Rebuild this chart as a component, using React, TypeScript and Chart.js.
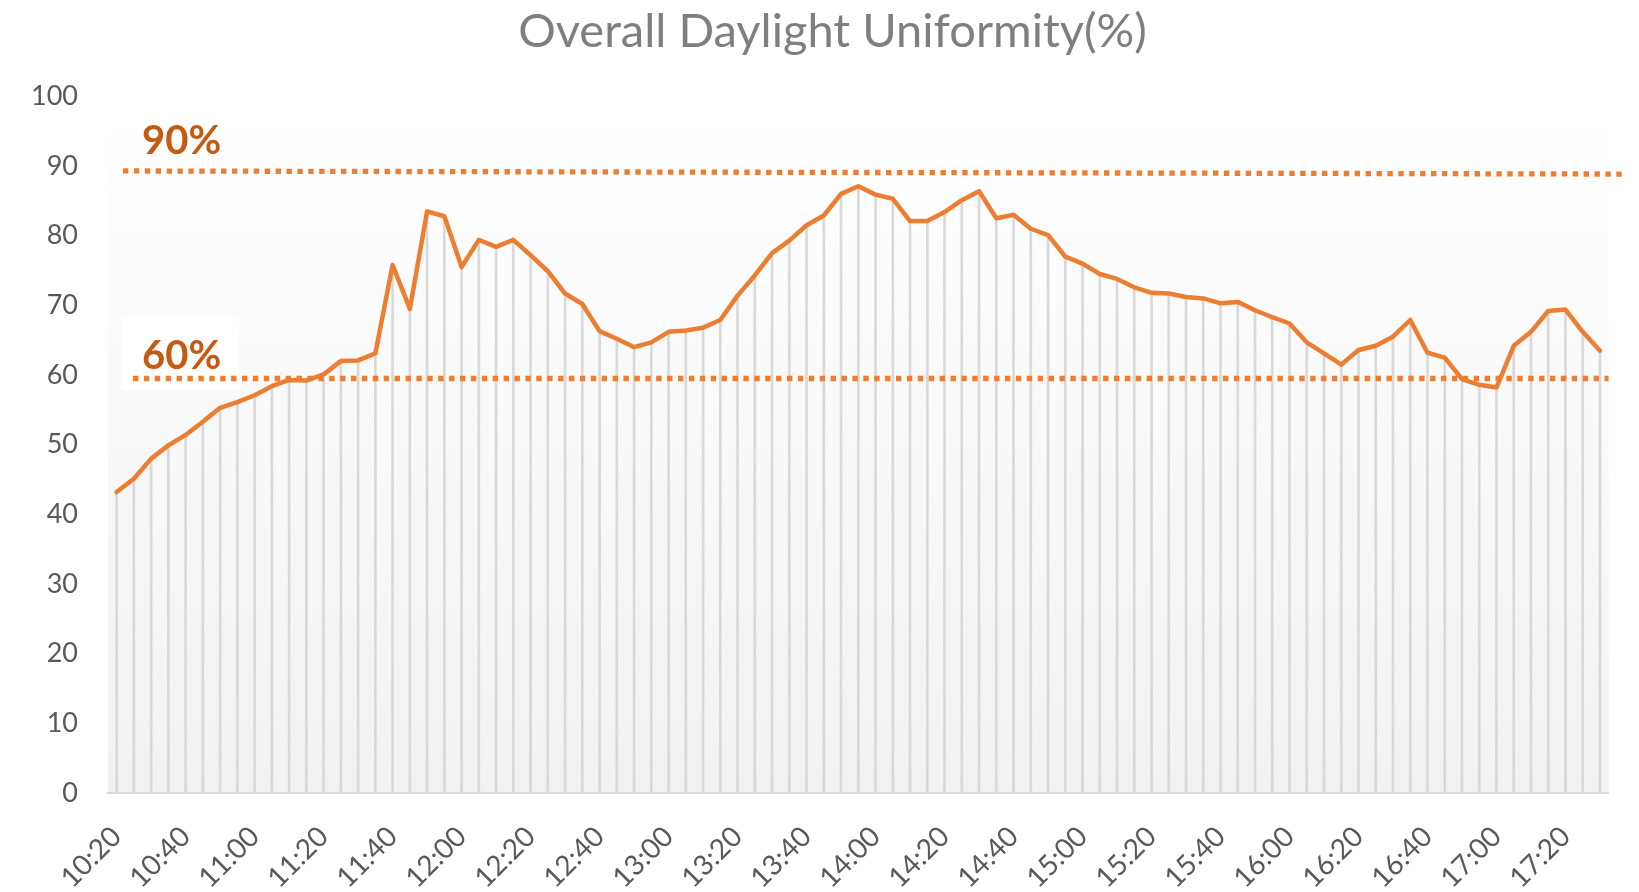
import React, { useEffect, useRef } from "react";
import { Chart, registerables } from "chart.js";

Chart.register(...registerables);

// Categories: every 5 minutes from 10:20 to 17:30
const times: string[] = [
  "10:20", "10:25", "10:30", "10:35", "10:40", "10:45", "10:50", "10:55",
  "11:00", "11:05", "11:10", "11:15", "11:20", "11:25", "11:30", "11:35", "11:40", "11:45", "11:50", "11:55",
  "12:00", "12:05", "12:10", "12:15", "12:20", "12:25", "12:30", "12:35", "12:40", "12:45", "12:50", "12:55",
  "13:00", "13:05", "13:10", "13:15", "13:20", "13:25", "13:30", "13:35", "13:40", "13:45", "13:50", "13:55",
  "14:00", "14:05", "14:10", "14:15", "14:20", "14:25", "14:30", "14:35", "14:40", "14:45", "14:50", "14:55",
  "15:00", "15:05", "15:10", "15:15", "15:20", "15:25", "15:30", "15:35", "15:40", "15:45", "15:50", "15:55",
  "16:00", "16:05", "16:10", "16:15", "16:20", "16:25", "16:30", "16:35", "16:40", "16:45", "16:50", "16:55",
  "17:00", "17:05", "17:10", "17:15", "17:20", "17:25", "17:30",
];

// Overall daylight uniformity (%)
const uniformity: number[] = [
  43.2, 45.1, 48.0, 49.9, 51.4, 53.3, 55.3, 56.1, 57.1, 58.4, 59.3, 59.2, 60.1,
  62.0, 62.1, 63.1, 75.8, 69.5, 83.5, 82.8, 75.5, 79.4, 78.4, 79.4, 77.2, 74.9,
  71.7, 70.2, 66.3, 65.2, 64.0, 64.7, 66.2, 66.4, 66.8, 67.9, 71.4, 74.3, 77.5,
  79.3, 81.5, 82.9, 86.0, 87.1, 85.9, 85.3, 82.1, 82.1, 83.4, 85.1, 86.4, 82.5,
  83.0, 81.0, 80.1, 77.0, 76.0, 74.5,
  73.8, 72.6, 71.8, 71.7, 71.2, 71.0, 70.3, 70.5, 69.3, 68.3, 67.4, 64.7, 63.1,
  61.5, 63.6, 64.2, 65.5, 67.9, 63.2, 62.5, 59.4, 58.6, 58.2, 64.2, 66.2, 69.2,
  69.4, 66.2, 63.5,
];

const labelEvery = 4;

// Y axis
const yMin = 0;
const yMax = 100;
const yStep = 10;

// Threshold reference lines
const thresholdNames: string[] = ["90%", "60%"];
const thresholdStart: number[] = [89.3, 59.5];
const thresholdEnd: number[] = [88.85, 59.5];

const ORANGE = "#ED7D31";
const DARK_ORANGE = "#C55A11";

const decorPlugin = {
  id: "decor",
  beforeDraw(chart: any) {
    const { ctx, chartArea: a } = chart;
    const y = chart.scales.y;
    ctx.save();
    const g = ctx.createLinearGradient(0, a.top, 0, a.bottom);
    g.addColorStop(0, "#ffffff");
    g.addColorStop(1, "#f2f2f2");
    ctx.fillStyle = g;
    ctx.fillRect(a.left, a.top, a.right - a.left, a.bottom - a.top);
    // white text box behind the 60% label
    const bt = y.getPixelForValue(68.4);
    const bb = y.getPixelForValue(57.9);
    ctx.fillStyle = "#ffffff";
    ctx.fillRect(a.left + 13, bt, 118, bb - bt);
    ctx.restore();
  },
  afterDatasetsDraw(chart: any) {
    const { ctx, chartArea: a } = chart;
    const y = chart.scales.y;
    ctx.save();
    ctx.strokeStyle = ORANGE;
    ctx.lineWidth = 5.3;
    ctx.lineCap = "butt";
    ctx.setLineDash([5.4, 5.5]);
    const starts = [a.left + 15, a.left + 25];
    const ends = [a.right + 18, a.right];
    thresholdNames.forEach((_, i) => {
      ctx.beginPath();
      ctx.moveTo(starts[i], y.getPixelForValue(thresholdStart[i]));
      ctx.lineTo(ends[i], y.getPixelForValue(thresholdEnd[i]));
      ctx.stroke();
    });
    ctx.setLineDash([]);
    ctx.fillStyle = DARK_ORANGE;
    ctx.font = "bold 40px Lato";
    ctx.textBaseline = "alphabetic";
    ctx.textAlign = "left";
    const baselines = [91.8, 60.9];
    thresholdNames.forEach((t, i) => {
      ctx.fillText(t, a.left + 34, y.getPixelForValue(baselines[i]));
    });
    ctx.restore();
  },
};

export default function App() {
  const ref = useRef<HTMLCanvasElement | null>(null);

  useEffect(() => {
    if (!ref.current) return;
    const chart = new Chart(ref.current, {
      type: "bar",
      data: {
        labels: times,
        datasets: [
          {
            type: "line",
            label: "Overall Daylight Uniformity",
            data: uniformity,
            borderColor: ORANGE,
            backgroundColor: ORANGE,
            borderWidth: 4.5,
            pointRadius: 0,
            tension: 0,
            fill: false,
            borderJoinStyle: "round",
            borderCapStyle: "round",
            order: 1,
          } as any,
          {
            type: "bar",
            label: "drop lines",
            data: uniformity,
            backgroundColor: "#d9d9d9",
            barThickness: 2,
            order: 2,
          } as any,
        ],
      },
      options: {
        animation: false,
        responsive: true,
        maintainAspectRatio: false,
        layout: { padding: { left: 0, right: 0, top: 0, bottom: 0 } },
        plugins: {
          legend: { display: false },
          tooltip: { enabled: false },
          title: {
            display: true,
            text: "Overall Daylight Uniformity(%)",
            color: "#7f7f7f",
            font: { family: "Lato", size: 47, weight: "normal", lineHeight: 1.2 },
            padding: { top: 4, bottom: 36 },
          },
        },
        scales: {
          x: {
            type: "category",
            offset: true,
            grid: { display: false, drawTicks: false },
            border: { display: true, color: "#d9d9d9", width: 2 },
            ticks: {
              autoSkip: false,
              maxRotation: 45,
              minRotation: 45,
              color: "#595959",
              font: { family: "Lato", size: 28 },
              padding: 27,
              callback: (_v: any, i: number) => (i % labelEvery === 0 ? times[i] : ""),
            },
            afterFit: (s: any) => {
              s.height = 99;
              s.paddingLeft = 0;
              s.paddingRight = 0;
            },
          },
          y: {
            min: yMin,
            max: yMax,
            ticks: {
              stepSize: yStep,
              color: "#595959",
              font: { family: "Lato", size: 27 },
              padding: 30,
            },
            grid: { display: false, drawTicks: false },
            border: { display: false },
            afterFit: (s: any) => {
              s.width = 108;
            },
          },
          yRight: {
            position: "right",
            display: true,
            min: yMin,
            max: yMax,
            ticks: { display: false },
            grid: { display: false, drawTicks: false },
            border: { display: false },
            afterFit: (s: any) => {
              s.width = 56.4;
            },
          },
        },
      } as any,
      plugins: [decorPlugin],
    });
    return () => chart.destroy();
  }, []);

  return (
    <div style={{ position: "absolute", left: 0, top: 0, width: 1639, height: 892, overflow: "hidden" }}>
      <div style={{ position: "relative", width: 1665, height: 892 }}>
        <canvas ref={ref} />
      </div>
    </div>
  );
}
